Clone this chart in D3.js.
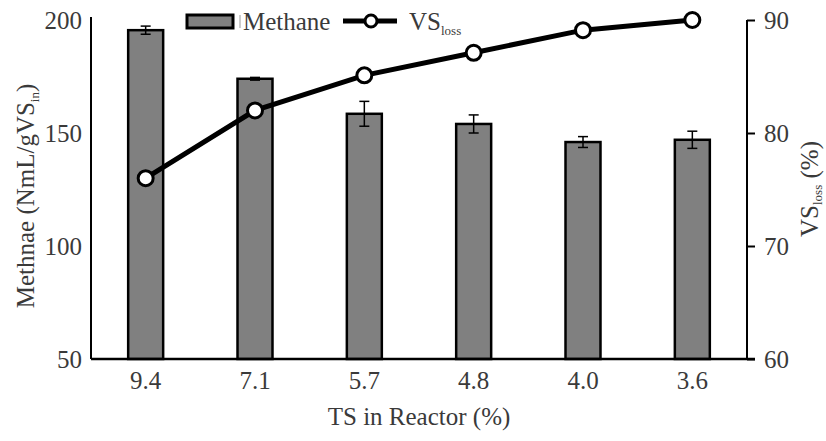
<!DOCTYPE html>
<html>
<head>
<meta charset="utf-8">
<script src="https://cdn.jsdelivr.net/npm/d3@7"></script>
<style>
  body { margin: 0; background: #fff; }
  svg text { font-family: "Liberation Serif", "Times New Roman", serif; fill: #3a3a3a; }
</style>
</head>
<body>
<div id="chart"></div>
<script>
// data
const categories = ["9.4", "7.1", "5.7", "4.8", "4.0", "3.6"];
const methane = [195.5, 174, 158.5, 154, 146, 147];
const methaneErr = [1.8, 0.6, 5.5, 4, 2.4, 3.8];
const vsLoss = [76.0, 82.0, 85.1, 87.1, 89.1, 90.0];
const leftTicks = [50, 100, 150, 200];
const rightTicks = [60, 70, 80, 90];

const width = 826, height = 441,
      margin = ({ top: 20, right: 79, bottom: 82, left: 91 });

const serif = "'Liberation Serif', 'Times New Roman', serif";

let svg = d3.select("#chart")
    .append("svg")
    .attr("width", width)
    .attr("height", height)
    .attr("font-family", serif);

let x = d3.scaleBand()
    .domain(categories)
    .range([margin.left, width - margin.right])
    .paddingInner(0.68)
    .paddingOuter(0.34);

let y = d3.scaleLinear()
    .domain([50, 200])
    .range([height - margin.bottom, margin.top]);

let y2 = d3.scaleLinear()
    .domain([60, 90])
    .range([height - margin.bottom, margin.top]);

// bars
let bar = svg.selectAll(".bar")
    .data(categories)
    .join("g")
    .attr("class", "bar");

bar.append("rect")
    .attr("x", d => x(d))
    .attr("width", x.bandwidth())
    .attr("y", (d, i) => y(methane[i]))
    .attr("height", (d, i) => y(50) - y(methane[i]))
    .attr("fill", "#808080")
    .attr("stroke", "#000")
    .attr("stroke-width", 2.5);

// error bars
bar.each(function(d, i) {
    let g = d3.select(this);
    let cx = x(d) + x.bandwidth() / 2;
    let lo = y(methane[i] - methaneErr[i]), hi = y(methane[i] + methaneErr[i]);
    g.append("line").attr("x1", cx).attr("x2", cx).attr("y1", lo).attr("y2", hi)
        .attr("stroke", "#000").attr("stroke-width", 1.5);
    [lo, hi].forEach(v => g.append("line")
        .attr("x1", cx - 5).attr("x2", cx + 5).attr("y1", v).attr("y2", v)
        .attr("stroke", "#000").attr("stroke-width", 1.5));
});

// left axis (line only, no ticks)
svg.append("g")
    .attr("transform", `translate(${margin.left},0)`)
    .call(d3.axisLeft(y).tickValues(leftTicks).tickSize(0).tickPadding(9))
    .call(g => g.attr("font-family", serif))
    .call(g => g.select(".domain").attr("stroke", "#000").attr("stroke-width", 2)
        .attr("d", `M0,${margin.top - 3}V${y(50)}`))
    .call(g => g.selectAll("text").style("font-size", "25px").attr("fill", "#3a3a3a"));

// right axis
svg.append("g")
    .attr("transform", `translate(${width - margin.right},0)`)
    .call(d3.axisRight(y2).tickValues(rightTicks).tickSize(8).tickPadding(9))
    .call(g => g.attr("font-family", serif))
    .call(g => g.select(".domain").attr("stroke", "#000").attr("stroke-width", 2)
        .attr("d", `M0,${y2(90)}V${y2(60)}`))
    .call(g => g.selectAll("line").attr("stroke", "#000").attr("stroke-width", 2))
    .call(g => g.selectAll("text").style("font-size", "25px").attr("fill", "#3a3a3a"));

// bottom axis
svg.append("g")
    .attr("transform", `translate(0,${height - margin.bottom})`)
    .call(d3.axisBottom(x).tickSize(0).tickPadding(12))
    .call(g => g.attr("font-family", serif))
    .call(g => g.select(".domain").attr("stroke", "#000").attr("stroke-width", 2.5)
        .attr("d", `M${margin.left},0H${width - margin.right + 8}`))
    .call(g => g.selectAll("text").style("font-size", "25px").attr("fill", "#3a3a3a"));

// VS loss line
let line = d3.line()
    .x((d, i) => x(categories[i]) + x.bandwidth() / 2)
    .y(d => y2(d));

svg.append("path")
    .datum(vsLoss)
    .attr("d", line)
    .attr("fill", "none")
    .attr("stroke", "#000")
    .attr("stroke-width", 5);

svg.selectAll(".pt")
    .data(vsLoss)
    .join("circle")
    .attr("class", "pt")
    .attr("cx", (d, i) => x(categories[i]) + x.bandwidth() / 2)
    .attr("cy", d => y2(d))
    .attr("r", 7.5)
    .attr("fill", "#fff")
    .attr("stroke", "#000")
    .attr("stroke-width", 3);

// axis titles
svg.append("text")
    .attr("x", (margin.left + width - margin.right) / 2)
    .attr("y", 425)
    .attr("text-anchor", "middle")
    .style("font-size", "25px")
    .text("TS in Reactor (%)");

let yl = svg.append("text")
    .attr("transform", "translate(34,196) rotate(-90)")
    .attr("text-anchor", "middle")
    .style("font-size", "25px");
yl.append("tspan").text("Methnae (NmL/gVS");
yl.append("tspan").attr("dy", 5).style("font-size", "13px").text("in");
yl.append("tspan").attr("dy", -5).text(")");

let yr = svg.append("text")
    .attr("transform", "translate(818,189) rotate(-90)")
    .attr("text-anchor", "middle")
    .style("font-size", "25px");
yr.append("tspan").text("VS");
yr.append("tspan").attr("dy", 4).style("font-size", "13px").text("loss");
yr.append("tspan").attr("dy", -4).text(" (%)");

// legend
let lg = svg.append("g").attr("class", "legend");
lg.append("rect")
    .attr("x", 187).attr("y", 15).attr("width", 46).attr("height", 13)
    .attr("fill", "#808080").attr("stroke", "#000").attr("stroke-width", 3);
lg.append("line")
    .attr("x1", 240).attr("x2", 240).attr("y1", 15).attr("y2", 28)
    .attr("stroke", "#999").attr("stroke-width", 1);
lg.append("text")
    .attr("x", 243).attr("y", 30)
    .style("font-size", "25px")
    .text("Methane");
lg.append("line")
    .attr("x1", 343).attr("x2", 397).attr("y1", 21).attr("y2", 21)
    .attr("stroke", "#000").attr("stroke-width", 5);
lg.append("circle")
    .attr("cx", 371).attr("cy", 21).attr("r", 6)
    .attr("fill", "#fff").attr("stroke", "#000").attr("stroke-width", 3);
let lt = lg.append("text")
    .attr("x", 409).attr("y", 30)
    .style("font-size", "25px");
lt.append("tspan").text("VS");
lt.append("tspan").attr("dy", 5).style("font-size", "13px").text("loss");
</script>
</body>
</html>
